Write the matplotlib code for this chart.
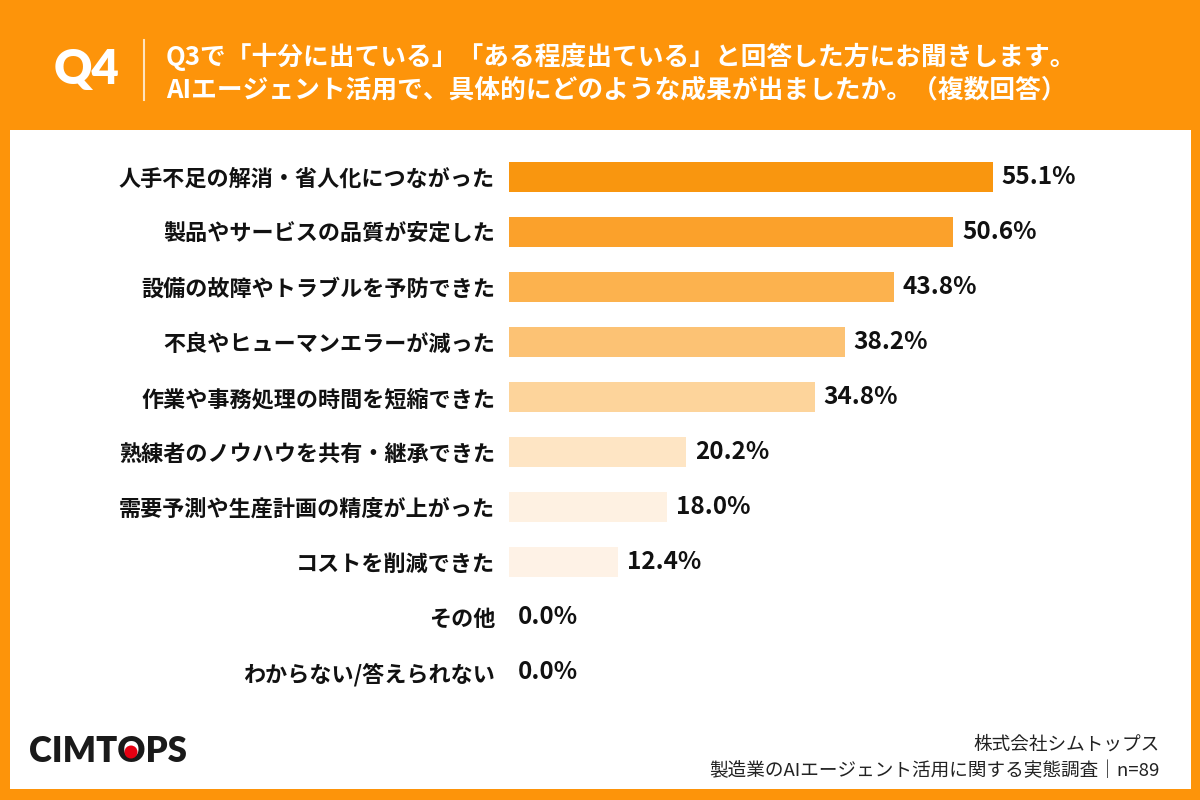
import matplotlib.pyplot as plt
from matplotlib.patches import Rectangle, Ellipse

plt.rcParams['font.family'] = ['Noto Sans CJK JP', 'DejaVu Sans']

categories = ['人手不足の解消・省人化につながった', '製品やサービスの品質が安定した',
              '設備の故障やトラブルを予防できた', '不良やヒューマンエラーが減った',
              '作業や事務処理の時間を短縮できた', '熟練者のノウハウを共有・継承できた',
              '需要予測や生産計画の精度が上がった', 'コストを削減できた',
              'その他', 'わからない/答えられない']
values = [55.1, 50.6, 43.8, 38.2, 34.8, 20.2, 18.0, 12.4, 0.0, 0.0]
bar_colors = ['#F9960F', '#FBA12B', '#FCB24E', '#FCC274', '#FDD49B',
              '#FEE5C4', '#FEF1E2', '#FEF2E6', '#FEF2E6', '#FEF2E6']

title_q = 'Q4'
title_lines = ['Q3で「十分に出ている」「ある程度出ている」と回答した方にお聞きします。',
               'AIエージェント活用で、具体的にどのような成果が出ましたか。（複数回答）']
footer_lines = ['株式会社シムトップス', '製造業のAIエージェント活用に関する実態調査｜n=89']

orange = '#FD940A'
W, H = 1200, 800
fig = plt.figure(figsize=(12, 8), dpi=100, facecolor=orange)

def fx(px):
    return px / W

def fy(py):
    return 1 - py / H

# white panel
fig.patches.append(Rectangle((fx(10), fy(789)), fx(1181), (789 - 130) / H,
                             transform=fig.transFigure, facecolor='white',
                             edgecolor='none', zorder=0))

# header
fig.text(fx(87), fy(70), title_q, color='white', fontsize=34, fontweight='heavy',
         ha='center', va='center', family=['Lato', 'DejaVu Sans'])
fig.add_artist(plt.Line2D([fx(144), fx(144)], [fy(40), fy(100)],
                          transform=fig.transFigure, color='#FFE3BE', lw=1.5))
fig.text(fx(166), fy(57), title_lines[0], color='white', fontsize=18.5,
         fontweight='bold', ha='left', va='center')
fig.text(fx(166), fy(90), title_lines[1], color='white', fontsize=18.5,
         fontweight='bold', ha='left', va='center')

# bar chart
px_per_pct = (993 - 509) / 55.1
ax_left, ax_right = 509, 1180
ax = fig.add_axes([fx(ax_left), fy(699.5), (ax_right - ax_left) / W, 550 / H])
ax.set_zorder(3)
ax.set_facecolor('none')
y = list(range(len(categories)))
ax.barh(y, values, height=30 / 55, color=bar_colors, edgecolor='none')
ax.set_xlim(0, (ax_right - ax_left) / px_per_pct)
ax.set_ylim(len(categories) - 0.5, -0.5)
ax.set_yticks(y)
ax.set_yticklabels(categories, fontsize=15.9, fontweight='bold', color='#111111')
ax.tick_params(axis='y', length=0, pad=10)
ax.set_xticks([])
for s in ax.spines.values():
    s.set_visible(False)
for i, v in enumerate(values):
    ax.text(v + 1.0, i, f'{v:.1f}%', ha='left', va='center', fontsize=17.5,
            fontweight='bold', color='#111111')

# footer
fig.text(fx(1160), fy(745), footer_lines[0], ha='right', va='center',
         fontsize=13.4, color='#222222', zorder=4)
fig.text(fx(1160), fy(771), footer_lines[1], ha='right', va='center',
         fontsize=13.4, color='#222222', zorder=4)

# logo
fig.text(fx(29), fy(752), 'CIMTOPS', ha='left', va='center', fontsize=25,
         fontweight='heavy', color='#1a1a1a', family=['Lato', 'DejaVu Sans'],
         zorder=4)
fig.patches.append(Ellipse((fx(131), fy(752)), 13 / W, 13 / H,
                           transform=fig.transFigure, facecolor='#E60012',
                           edgecolor='none', zorder=5))

fig.savefig('out.png', dpi=100, facecolor=orange)
